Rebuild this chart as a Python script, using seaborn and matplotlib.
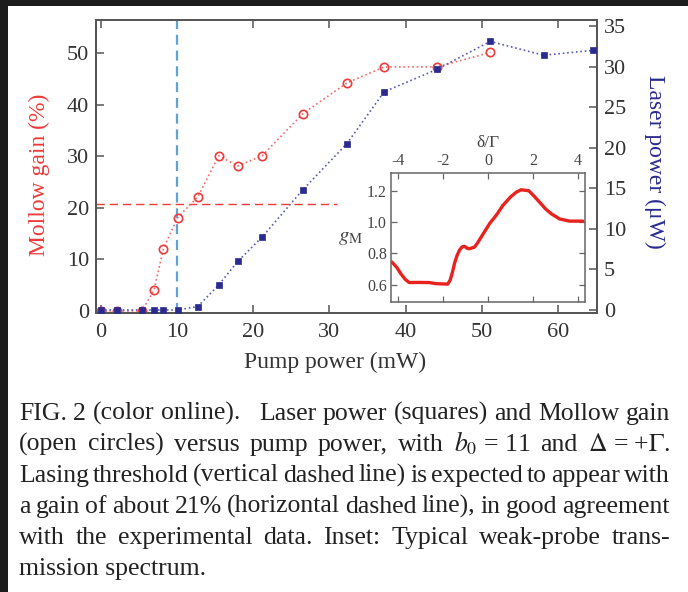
import numpy as np
import pandas as pd
import matplotlib
matplotlib.use("Agg")
import matplotlib.pyplot as plt
import seaborn as sns
from matplotlib.patches import Rectangle

# ---------------- data ----------------
pump_gain = [0.0, 2.1, 5.4, 7.0, 8.25, 10.1, 12.75, 15.5, 18.0, 21.2, 26.5, 32.3, 37.2, 44.1, 51.1]
mollow_gain = [0.0, 0.0, 0.0, 4.0, 12.1, 18.1, 22.1, 30.1, 28.1, 30.1, 38.2, 44.2, 47.3, 47.3, 50.1]

pump_laser = [0.0, 2.1, 5.4, 7.0, 8.25, 10.1, 12.75, 15.5, 18.0, 21.2, 26.5, 32.3, 37.2, 44.1, 51.1, 58.1, 64.6]
laser_power = [0.0, 0.0, 0.0, 0.0, 0.0, 0.0, 0.43, 3.1, 6.0, 9.0, 14.8, 20.5, 26.9, 29.65, 33.1, 31.4, 32.0]

threshold_power = 10.0      # vertical dashed line (mW)
threshold_gain = 20.8       # horizontal dashed line (%)
hline_end = 31.0            # horizontal dashed line ends here (mW)

inset_delta = [-4.27, -4.05, -3.87, -3.68, -3.5, -3.1, -2.61, -2.31, -1.95, -1.79, -1.68, -1.58,
               -1.49, -1.38, -1.27, -1.15, -1.04, -0.92, -0.82, -0.6, -0.45, -0.3, 0.07, 0.4,
               0.66, 1.0, 1.25, 1.47, 1.81, 2.05, 2.29, 2.55, 2.81, 3.18, 3.62, 4.21]
inset_gm = [0.745, 0.71, 0.67, 0.635, 0.614, 0.615, 0.614, 0.607, 0.605, 0.604, 0.63, 0.68,
            0.735, 0.785, 0.82, 0.842, 0.845, 0.832, 0.83, 0.84, 0.87, 0.905, 0.99, 1.05,
            1.106, 1.16, 1.19, 1.206, 1.2, 1.165, 1.127, 1.085, 1.053, 1.02, 1.006, 1.006]

x_ticks = [0, 10, 20, 30, 40, 50, 60]
gain_ticks = [0, 10, 20, 30, 40, 50]
power_ticks = [0, 5, 10, 15, 20, 25, 30, 35]
inset_x_ticks = [-4, -2, 0, 2, 4]
inset_x_labels = ["-4", "-2", "0", "2", "4"]
inset_y_ticks = [0.6, 0.8, 1.0, 1.2]
inset_y_labels = ["0.6", "0.8", "1.0", "1.2"]

# "" marks an extra-wide gap after the preceding word
caption_lines = [
    ["FIG.", "2", "(color", "online).", "", "", "Laser", "power", "(squares)", "and", "Mollow", "gain"],
    ["(open", "circles)", "versus", "pump", "power,", "with", r"$b_0$ = 11", "and", r"$\Delta$ = +$\Gamma$."],
    ["Lasing", "threshold", "(vertical", "dashed", "line)", "is", "expected", "to", "appear", "with"],
    ["a", "gain", "of", "about", "21%", "(horizontal", "dashed", "line),", "in", "good", "agreement"],
    ["with", "the", "experimental", "data.", "Inset:", "Typical", "weak-probe", "trans-"],
    ["mission spectrum."],
]

# ---------------- style ----------------
sns.set_style("ticks")
plt.rcParams["font.family"] = ["Liberation Serif", "DejaVu Serif"]
plt.rcParams["mathtext.fontset"] = "stix"
plt.rcParams["axes.unicode_minus"] = False

RED = "#ee3b3b"
RED_LINE = "#f26a6a"
BLUE = "#2b2b8f"
BLUE_LINE = "#5a5ab8"
LIGHTBLUE = "#5fa3d6"
TXT = "#333333"
SPINE = "#555555"

W, H = 688, 592
fig = plt.figure(figsize=(W / 100, H / 100), dpi=100)
fig.patch.set_facecolor("white")

# dark screenshot border (top and left)
fig.add_artist(Rectangle((0, 1 - 6 / H), 1, 6 / H, transform=fig.transFigure,
                         facecolor="#1c1c1c", edgecolor="none", zorder=-5))
fig.add_artist(Rectangle((0, 0), 8 / W, 1, transform=fig.transFigure,
                         facecolor="#1c1c1c", edgecolor="none", zorder=-5))

# ---------------- main axes ----------------
ax = fig.add_axes([96 / W, 1 - 313 / H, (597 - 96) / W, (313 - 20) / H])
ax2 = ax.twinx()

df_gain = pd.DataFrame({"pump": pump_gain, "gain": mollow_gain})
df_laser = pd.DataFrame({"pump": pump_laser, "power": laser_power})

ax.axvline(threshold_power, color=LIGHTBLUE, lw=1.6, dashes=(4.5, 2.6), zorder=1)
ax.hlines(threshold_gain, -0.6, hline_end, color=RED, lw=1.0, linestyles=[(0, (6, 3.5))], zorder=1)

sns.lineplot(data=df_gain, x="pump", y="gain", ax=ax, sort=False, color=RED_LINE,
             linestyle=":", linewidth=1.2, marker="o", markersize=6,
             markerfacecolor="none", markeredgecolor=RED, markeredgewidth=1.2, zorder=3)
sns.lineplot(data=df_laser, x="pump", y="power", ax=ax2, sort=False, color=BLUE_LINE,
             linestyle=":", linewidth=1.2, marker="s", markersize=4.6,
             markerfacecolor=BLUE, markeredgecolor=BLUE, markeredgewidth=0.5, zorder=3)

ax.set_xlim(-0.6, 65.1)
ax.set_ylim(-0.4, 56.4)
ax2.set_ylim(-0.37, 35.74)
ax.set_xticks(x_ticks)
ax.set_yticks(gain_ticks)
ax2.set_yticks(power_ticks)

for a in (ax, ax2):
    for s in a.spines.values():
        s.set_color(SPINE)
        s.set_linewidth(1.3)
        s.set_visible(True)

ax.tick_params(axis="x", which="both", direction="in", top=True, bottom=True, length=6,
               width=1.1, color=SPINE, labelsize=16, labelcolor=TXT, pad=7)
ax.tick_params(axis="y", which="both", direction="in", left=True, right=False, length=6,
               width=1.1, color=SPINE, labelsize=16, labelcolor=TXT, pad=5)
ax2.tick_params(axis="y", which="both", direction="in", right=True, left=False, length=6,
                width=1.1, color=SPINE, labelsize=16, labelcolor=TXT, pad=5)

ax.set_xlabel("Pump power (mW)", fontsize=17, color=TXT)
ax.xaxis.label.set_verticalalignment("center")
ax.xaxis.set_label_coords(0.477, -0.17)
ax.set_ylabel("Mollow gain (%)", fontsize=17, color=RED)
ax.yaxis.label.set_verticalalignment("center")
ax.yaxis.set_label_coords(-0.112, 0.47)
ax2.set_ylabel("Laser power (μW)", fontsize=17, color=BLUE, rotation=270)
ax2.yaxis.label.set_verticalalignment("center")
ax2.yaxis.set_label_coords(1.114, 0.515)

# ---------------- inset ----------------
axi = fig.add_axes([391 / W, 1 - 302 / H, (585 - 391) / W, (302 - 173) / H])
df_inset = pd.DataFrame({"delta": inset_delta, "gm": inset_gm})
sns.lineplot(data=df_inset, x="delta", y="gm", ax=axi, sort=False, color="#e8231e", linewidth=2.4)
axi.set_xlim(-4.31, 4.31)
axi.set_ylim(0.49, 1.313)
axi.set_xticks(inset_x_ticks)
axi.set_xticklabels(inset_x_labels)
axi.set_yticks(inset_y_ticks)
axi.set_yticklabels(inset_y_labels)
axi.xaxis.set_ticks_position("both")
axi.yaxis.set_ticks_position("both")
axi.tick_params(axis="x", direction="in", top=True, bottom=True, labeltop=True, labelbottom=False,
                length=4, width=0.9, color="#666666", labelsize=11.5, labelcolor="#444444", pad=3)
axi.tick_params(axis="y", direction="in", left=True, right=True, length=4, width=0.9,
                color="#666666", labelsize=11.5, labelcolor="#444444", pad=3)
for s in axi.spines.values():
    s.set_color("#666666")
    s.set_linewidth(1.1)
    s.set_visible(True)
axi.set_xlabel("δ/Γ", fontsize=12.5, color="#444444", labelpad=4)
axi.xaxis.set_label_position("top")
axi.set_ylabel(r"$g_{\mathrm{M}}$", fontsize=15, color="#444444", rotation=0)
axi.yaxis.label.set_verticalalignment("center")
axi.yaxis.set_label_coords(-0.21, 0.5)

# ---------------- caption (justified) ----------------
fig.canvas.draw()
renderer = fig.canvas.get_renderer()
CAP_SIZE = 18.5
CAP_COLOR = "#222222"
left_px, right_px = 19, 670
baselines = [420, 451, 482, 513, 544, 575]

def width_px(s):
    t = fig.text(0, 0, s, fontsize=CAP_SIZE, color=CAP_COLOR)
    w = t.get_window_extent(renderer).width
    t.remove()
    return w

for line, base in zip(caption_lines, baselines):
    y = 1 - base / H
    if len(line) == 1:
        fig.text(left_px / W, y, line[0], fontsize=CAP_SIZE, color=CAP_COLOR, va="baseline", ha="left")
        continue
    words = []
    extra = []          # extra gap weight after each word
    for tok in line:
        if tok == "":
            extra[-1] += 1.0
        else:
            words.append(tok)
            extra.append(0.0)
    gaps = [1.0 + extra[i] for i in range(len(words) - 1)]
    widths = [width_px(wd) for wd in words]
    free = (right_px - left_px) - sum(widths)
    unit = free / sum(gaps)
    x = left_px
    for i, wd in enumerate(words):
        fig.text(x / W, y, wd, fontsize=CAP_SIZE, color=CAP_COLOR, va="baseline", ha="left")
        x += widths[i]
        if i < len(gaps):
            x += gaps[i] * unit

fig.savefig("out.png", dpi=100, facecolor=fig.get_facecolor())
